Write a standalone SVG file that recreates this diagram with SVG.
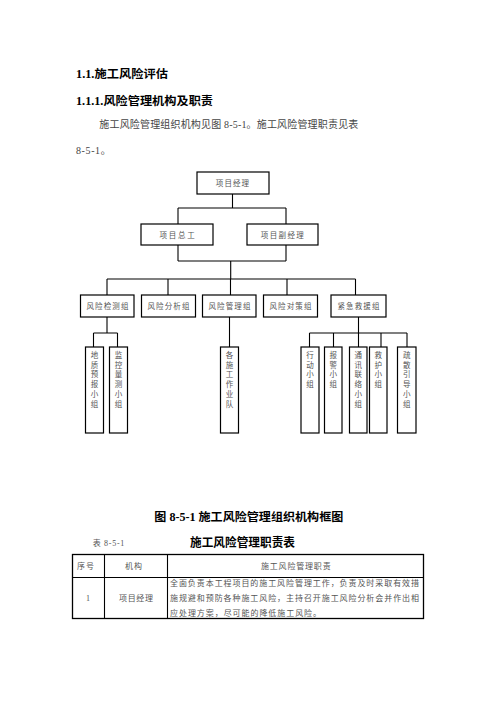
<svg xmlns="http://www.w3.org/2000/svg" width="496" height="702" viewBox="0 0 496 702">
<style>
.bg{fill:#fff}
.box{fill:#fff;stroke:#000;stroke-width:1.2}
.ln{fill:none;stroke:#000;stroke-width:1.1}
.t{font-family:"Liberation Serif","Noto Sans CJK SC",serif;font-size:7.5px;fill:#555;letter-spacing:1.1px}
.c{text-anchor:middle}
.v{font-family:"Noto Sans CJK SC",sans-serif;font-size:7.5px;fill:#555;text-anchor:middle}
.h{font-family:"Liberation Serif","Noto Sans CJK SC",serif;font-weight:bold;fill:#000}
.p{font-family:"Liberation Serif","Noto Sans CJK SC",serif;font-size:10px;fill:#444}
.tb{font-family:"Liberation Serif","Noto Sans CJK SC",serif;font-size:8px;fill:#555}
</style>
<rect class="bg" x="0" y="0" width="496" height="702"/>
<g id="headings">
<text class="h" x="76" y="78" font-size="11.5" textLength="92" lengthAdjust="spacingAndGlyphs">1.1.施工风险评估</text>
<text class="h" x="76" y="105" font-size="11.5" textLength="137" lengthAdjust="spacingAndGlyphs">1.1.1.风险管理机构及职责</text>
<text class="p" x="99.3" y="128" textLength="259" lengthAdjust="spacing">施工风险管理组织机构见图 8-5-1。施工风险管理职责见表</text>
<text class="p" x="76" y="154" letter-spacing="0.6">8-5-1。</text>
</g>
<g id="connectors">
<path class="ln" d="M232.5 194V208M178 208H286M178 208V224M286 208V224"/>
<path class="ln" d="M178 245V261M286 245V261M178 261H286M230.7 261V279"/>
<path class="ln" d="M107 279H355.5M107 279V295M168 279V295M230.5 279V295M287 279V295M355.5 279V295"/>
<path class="ln" d="M107 317V333M93.5 333H117.5M93.5 333V347M117.5 333V347"/>
<path class="ln" d="M229.5 317V347"/>
<path class="ln" d="M358.5 317V333M309.5 333H407M309.5 333V347M333.5 333V347M358.5 333V347M381 333V347M407 333V347"/>
</g>
<g id="n-xmjl"><rect class="box" x="197" y="172" width="72" height="22"/><text class="t c" x="233" y="186">项目经理</text></g>
<g id="n-xmzg"><rect class="box" x="141" y="224" width="72" height="21"/><text class="t c" x="178" y="237.5" style="letter-spacing:1.8px">项目总工</text></g>
<g id="n-xmfjl"><rect class="box" x="247" y="224" width="71" height="21"/><text class="t c" x="283" y="237.5" style="letter-spacing:1.4px">项目副经理</text></g>
<g id="n-jc"><rect class="box" x="80.5" y="295" width="53.5" height="22"/><text class="t c" x="108" y="309">风险检测组</text></g>
<g id="n-fx"><rect class="box" x="141.5" y="295" width="54" height="22"/><text class="t c" x="169" y="309">风险分析组</text></g>
<g id="n-gl"><rect class="box" x="202.5" y="295" width="53.5" height="22"/><text class="t c" x="230" y="309">风险管理组</text></g>
<g id="n-dc"><rect class="box" x="263.5" y="295" width="54" height="22"/><text class="t c" x="291" y="309">风险对策组</text></g>
<g id="n-jy"><rect class="box" x="331" y="295" width="55" height="22"/><text class="t c" x="359" y="309">紧急救援组</text></g>
<g id="n-dzyb"><rect class="box" x="85.5" y="347" width="18" height="86"/><text class="v"><tspan x="94.5" y="358">地</tspan><tspan x="94.5" dy="9.7">质</tspan><tspan x="94.5" dy="9.7">预</tspan><tspan x="94.5" dy="9.7">报</tspan><tspan x="94.5" dy="9.7">小</tspan><tspan x="94.5" dy="9.7">组</tspan></text></g>
<g id="n-jkcl"><rect class="box" x="109.5" y="347" width="18" height="86"/><text class="v"><tspan x="118.5" y="358">监</tspan><tspan x="118.5" dy="9.7">控</tspan><tspan x="118.5" dy="9.7">量</tspan><tspan x="118.5" dy="9.7">测</tspan><tspan x="118.5" dy="9.7">小</tspan><tspan x="118.5" dy="9.7">组</tspan></text></g>
<g id="n-sgzyd"><rect class="box" x="220.5" y="347" width="18" height="86"/><text class="v"><tspan x="229.5" y="358">各</tspan><tspan x="229.5" dy="9.7">施</tspan><tspan x="229.5" dy="9.7">工</tspan><tspan x="229.5" dy="9.7">作</tspan><tspan x="229.5" dy="9.7">业</tspan><tspan x="229.5" dy="9.7">队</tspan></text></g>
<g id="n-xd"><rect class="box" x="301" y="347" width="18" height="86"/><text class="v"><tspan x="310" y="358">行</tspan><tspan x="310" dy="9.7">动</tspan><tspan x="310" dy="9.7">小</tspan><tspan x="310" dy="9.7">组</tspan></text></g>
<g id="n-bj"><rect class="box" x="324.5" y="347" width="17.5" height="86"/><text class="v"><tspan x="333.3" y="358">报</tspan><tspan x="333.3" dy="9.7">警</tspan><tspan x="333.3" dy="9.7">小</tspan><tspan x="333.3" dy="9.7">组</tspan></text></g>
<g id="n-txll"><rect class="box" x="349.5" y="347" width="17.5" height="86"/><text class="v"><tspan x="358.3" y="358">通</tspan><tspan x="358.3" dy="9.7">讯</tspan><tspan x="358.3" dy="9.7">联</tspan><tspan x="358.3" dy="9.7">络</tspan><tspan x="358.3" dy="9.7">小</tspan><tspan x="358.3" dy="9.7">组</tspan></text></g>
<g id="n-jh"><rect class="box" x="369.5" y="347" width="17.5" height="86"/><text class="v"><tspan x="378.3" y="358">救</tspan><tspan x="378.3" dy="9.7">护</tspan><tspan x="378.3" dy="9.7">小</tspan><tspan x="378.3" dy="9.7">组</tspan></text></g>
<g id="n-ssyd"><rect class="box" x="397.5" y="347" width="18.5" height="86"/><text class="v"><tspan x="406.8" y="358">疏</tspan><tspan x="406.8" dy="9.7">散</tspan><tspan x="406.8" dy="9.7">引</tspan><tspan x="406.8" dy="9.7">导</tspan><tspan x="406.8" dy="9.7">小</tspan><tspan x="406.8" dy="9.7">组</tspan></text></g>
<g id="caption">
<text class="h" x="154.3" y="521" font-size="11.5" textLength="189" lengthAdjust="spacingAndGlyphs">图 8-5-1 施工风险管理组织机构框图</text>
<text class="tb" x="92.7" y="545.5" font-size="7.5" textLength="31.6" lengthAdjust="spacing">表 8-5-1</text>
<text class="h" x="190" y="547" font-size="12" textLength="105" lengthAdjust="spacingAndGlyphs">施工风险管理职责表</text>
</g>
<g id="table">
<rect x="72.5" y="554.5" width="351" height="64" fill="none" stroke="#000" stroke-width="1.3"/>
<path class="ln" d="M72.5 577.5H423.5M104.5 554.5V618.5M167.5 554.5V618.5"/>
<text class="tb" x="86" y="569" text-anchor="middle" letter-spacing="1">序号</text>
<text class="tb" x="134" y="569" text-anchor="middle" letter-spacing="1">机构</text>
<text class="tb" x="295.8" y="569" text-anchor="middle" textLength="69.7" lengthAdjust="spacing">施工风险管理职责</text>
<text class="tb" x="88" y="601" text-anchor="middle">1</text>
<text class="tb" x="136" y="601" text-anchor="middle" textLength="34" lengthAdjust="spacing">项目经理</text>
<text class="tb" x="170" y="586" textLength="249" lengthAdjust="spacing">全面负责本工程项目的施工风险管理工作，负责及时采取有效措</text>
<text class="tb" x="170" y="601" textLength="249" lengthAdjust="spacing">施规避和预防各种施工风险，主持召开施工风险分析会并作出相</text>
<text class="tb" x="170" y="615.5" textLength="151" lengthAdjust="spacing">应处理方案，尽可能的降低施工风险。</text>
</g>
</svg>
